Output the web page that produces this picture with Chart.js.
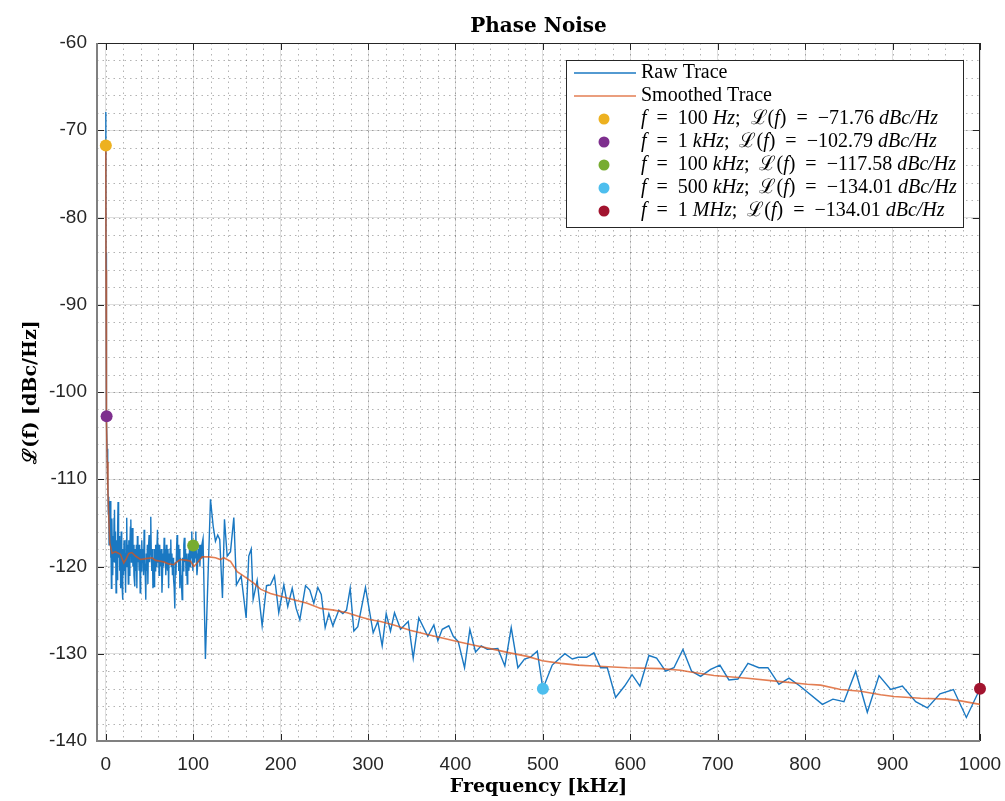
<!DOCTYPE html>
<html lang="en">
<head>
<meta charset="utf-8">
<title>Phase Noise</title>
<script src="https://cdn.jsdelivr.net/npm/chart.js@4.4.0/dist/chart.umd.min.js"></script>
<style>
  body { margin: 0; background: #fff; }
  .chart-container { width: 1005px; height: 801px; }
</style>
</head>
<body>
<div class="chart-container"><canvas id="phase"></canvas></div>
<script>
// raw trace (kHz / dBc/Hz)
const rawFreq = [0.1, 0.3, 0.6, 1, 1.5,
  2, 2.5, 3, 3.4, 3.8, 4.2, 4.7, 5.1, 5.6, 6,
  6.5, 7, 7.5, 8, 8.5, 9, 9.5, 10, 10.6, 11.2,
  11.8, 12.4, 13, 13.6, 14.1, 14.7, 15.3, 15.9, 16.5, 17.1,
  17.7, 18.3, 18.8, 19.2, 19.7, 20.3, 20.9, 21.5, 22.1, 22.7,
  23.3, 24, 24.6, 25.2, 25.8, 26.4, 27, 27.6, 28.2, 28.7,
  29.3, 29.9, 30.5, 31.1, 31.7, 32.3, 33.2, 33.8, 34.4, 35,
  35.6, 36.2, 36.8, 37.5, 38.2, 38.8, 39.4, 40, 40.6, 41.2,
  41.8, 42.5, 43.2, 43.9, 44.5, 45.2, 45.8, 46.4, 47, 47.6,
  48.2, 48.8, 49.6, 50.2, 50.9, 51.5, 52.1, 52.7, 53.3, 54,
  54.6, 55.3, 55.9, 56.5, 57.1, 57.8, 58.5, 59.2, 59.8, 60.4,
  61, 61.7, 62.3, 63, 63.6, 64.3, 64.9, 65.5, 66.1, 66.8,
  67.4, 68, 68.7, 69.3, 70, 70.6, 71.2, 71.9, 72.5, 73.1,
  73.8, 74.4, 75, 75.7, 76.3, 77, 77.6, 78.3, 79, 79.6,
  80.3, 81, 81.6, 82.2, 82.9, 83.5, 84.2, 84.8, 85.5, 86.1,
  86.8, 87.4, 88, 88.7, 89.3, 89.9, 90.6, 91.2, 91.9, 92.5,
  93.2, 93.8, 94.5, 95.1, 95.8, 96.4, 97.1, 97.7, 98.4, 99,
  99.7, 100.3, 101, 101.6, 102.3, 103, 103.6, 104.3, 104.9, 105.6,
  106.3, 107, 107.7, 108.5, 109.2, 110, 111.3, 114,
  119.8, 122.9, 125.5, 128.1, 130.4, 133.5, 135.8, 138.9, 142.7, 146.5,
  149.5, 154.9, 160.6, 163.6, 166.4, 168.6, 173.2, 178.9, 183.9, 188.4, 193, 197.9, 203.7, 208.2, 213.3, 217.8, 222,
  228.5, 233.4, 238, 242.6, 246.5, 251, 255.2, 259.8, 266.6, 271.2, 275.4, 279.6, 283.8, 288.3, 297.1, 305.9, 311.2,
  316.2, 320.8, 325.7, 330.3, 337.2, 346, 351.7, 358.1, 368.4, 375.3, 379.9, 384.9, 392.4, 397.5, 403.2, 410.4, 416.5,
  423, 429.5, 436.4, 448.5, 456.5, 463.8, 471.4, 479, 485.9, 493.6, 500, 510.7, 525.2, 533.6, 540.5, 550, 558.4, 566,
  573.7, 583.2, 593.5, 602, 611, 621.3, 630.1, 640.4, 649.9, 660.2, 670.1, 680.4, 691.9, 702.5, 712.8, 723.1, 734.6,
  747.1, 757.4, 770, 781.5, 794, 819.7, 831.8, 844.4, 857.8, 871.1, 884.5, 897.8, 911.2, 926.4, 939.8, 954.2, 969.6,
  984.4, 1000];
const rawLevel = [-67.9, -84, -96, -103, -106.5,
  -110.5, -109.3, -114, -112, -117.5, -113.5, -116, -112.5, -119, -115,
  -122.5, -114.5, -118, -121, -116.5, -119.5, -114.5, -113.5, -119.5, -116,
  -123, -117, -121.5, -115.5, -112.6, -119, -116.5, -120.5, -117, -122.5,
  -116, -119.5, -122.5, -123.8, -118, -121, -117, -120.5, -118.5, -123,
  -117, -114.4, -120, -117.5, -122, -117, -121, -118, -115.5, -114.6,
  -119.5, -117, -115.6, -120, -117.5, -121, -122.3, -118, -120.5, -117.5,
  -122.5, -116.5, -119.5, -117.5, -120.4, -117.5, -123, -118, -120.5, -117,
  -119.5, -118, -121, -115.8, -119.5, -121, -123.8, -118.5, -120.5, -117.5,
  -122, -118, -116.4, -119.5, -117.5, -114.3, -118.5, -120.5, -118, -122.5,
  -119, -122.3, -118, -120.5, -117.5, -120, -118, -115.8, -119.5, -117.5,
  -121, -117.5, -119.5, -120, -118, -123, -121.1, -118.5, -120, -116.7,
  -119.5, -118, -121, -117.5, -119.5, -120.4, -118, -122.5, -118.5, -119.8,
  -118, -116.9, -120, -118.5, -121, -119, -121.5, -122.5, -124.8, -119.5,
  -121, -118, -116.4, -119.5, -117.5, -120.5, -118, -122.5, -119, -121,
  -122.5, -123.8, -119, -120.5, -117.5, -116.7, -119.5, -118, -121, -118.5,
  -122, -120.5, -118.5, -120.5, -118, -120, -117.5, -119, -116, -118.5,
  -120.5, -117, -119.5, -117.5, -119, -116, -118.5, -121, -120.2, -118,
  -119.5, -117.5, -120, -117.5, -119, -117.5, -116.8, -130.6,
  -112.3, -115.4, -117.1, -116.4, -116.9, -123.6, -114.6, -118.8, -118.3, -114.4,
  -122.1, -121.1, -125.9, -118.8, -118, -123.8, -121.6, -126.8, -122.2, -122.1, -121.1, -125.3, -122.1, -124.6, -122.5,
  -124.8, -126.1, -122.2, -122.7, -124.2, -122.4, -123.2, -127, -125.4, -126.8, -125, -125.4, -125, -122.5, -127.4,
  -126.9, -122.4, -127.6, -126.3, -129.1, -125.4, -127.4, -125.3, -127.2, -126.3, -130.5, -125.9, -128, -126.7, -128.5,
  -127.2, -126.8, -128, -128.6, -131.6, -127.2, -129.8, -129.1, -129.5, -129.4, -131.4, -127, -131.6, -130.6, -130.4,
  -129.7, -134.01, -131.3, -130, -130.6, -130.4, -130.4, -129.9, -131.6, -131.6, -135, -133.7, -132.4, -133.7, -130.2,
  -130.5, -132, -131.6, -129.5, -132, -132.6, -131.8, -131.3, -133, -132.9, -131.1, -131.6, -131.6, -133.5, -132.8,
  -133.7, -135.8, -135.2, -135.5, -132, -136.7, -132.5, -134.1, -133.7, -135.5, -136.2, -134.6, -134.1, -137.3, -134.01];

// smoothed trace
const smoothFreq = [0.1, 0.3, 0.6, 1, 1.6, 2.5, 3.5, 4.6, 7.3, 11, 16.8, 20.6, 23, 26.3, 30, 34, 39.7, 46, 53, 57, 62.6,
  67, 72, 77.8, 81, 85.5, 93.1, 97, 100.7, 104.5, 110.3, 118, 125.5, 131.2, 135, 142.7, 150.3, 157.9, 169.3, 177, 188.4,
  199.9, 215.1, 230.4, 245.7, 260.9, 276.2, 291.4, 302.9, 314.3, 329.5, 348, 367.7, 385, 402, 420, 443.9, 462, 482.2,
  499.3, 520.3, 540, 558.4, 596.6, 634.7, 657.6, 669, 695.7, 733.9, 772, 802.5, 817.7, 840.6, 863.5, 886.4, 901.6, 932.1,
  962.6, 977.9, 1000];
const smoothLevel = [-71.76, -86, -97, -102.79, -108, -111.5, -114.5, -117.3, -118.5, -118.3, -118.6, -119.6, -119.2,
  -118.5, -118.4, -118.8, -119.2, -119.1, -119, -119.3, -119.4, -119.5, -119.7, -119.8, -119.5, -119.2, -119.3, -119.4,
  -120, -119.6, -118.9, -118.9, -119, -119.2, -119, -119.4, -120.6, -121.1, -121.9, -122.6, -123.1, -123.4, -123.8,
  -124.2, -124.8, -125, -125.3, -125.8, -126.1, -126.3, -126.7, -127.3, -127.8, -128.2, -128.6, -129, -129.5, -129.9,
  -130.3, -130.8, -131.1, -131.3, -131.4, -131.6, -131.7, -131.9, -132.1, -132.5, -132.8, -133.2, -133.5, -133.6,
  -134.1, -134.3, -134.7, -134.9, -135.1, -135.2, -135.4, -135.8];

// spot markers
const markerFreq = [0.1, 1, 100, 500, 1000];
const markerLevel = [-71.76, -102.79, -117.58, -134.01, -134.01];
const markerFreqText = ['100', '1', '100', '500', '1'];
const markerUnit = ['Hz', 'kHz', 'kHz', 'kHz', 'MHz'];

const xTicks = [0, 100, 200, 300, 400, 500, 600, 700, 800, 900, 1000];
const yTicks = [-60, -70, -80, -90, -100, -110, -120, -130, -140];

const markerColors = ['#EDB120', '#7E2F8E', '#77AC30', '#4DBEEE', '#A2142F'];
const serif = '"Liberation Serif", "DejaVu Serif", serif';
const sp = '\u2002';

function toPoints(xs, ys) {
    return xs.map((x, i) => ({x: x, y: ys[i]}));
}

function markerParts(i) {
    return [
        {t: 'f', it: true},
        {t: sp + '=' + sp + markerFreqText[i] + ' '},
        {t: markerUnit[i], it: true},
        {t: ';' + sp + '\u2112('},
        {t: 'f', it: true},
        {t: ')' + sp + '=' + sp + '\u2212' + Math.abs(markerLevel[i]).toFixed(2) + ' '},
        {t: 'dBc/Hz', it: true}
    ];
}

const datasets = [
    {
        label: 'Raw Trace',
        parts: [{t: 'Raw Trace'}],
        data: toPoints(rawFreq, rawLevel),
        borderColor: '#1a78c2',
        borderWidth: 1.4,
        pointRadius: 0,
        order: 3
    },
    {
        label: 'Smoothed Trace',
        parts: [{t: 'Smoothed Trace'}],
        data: toPoints(smoothFreq, smoothLevel),
        borderColor: 'rgba(217, 83, 25, 0.75)',
        borderWidth: 1.6,
        pointRadius: 0,
        order: 2
    }
];
markerFreq.forEach((f, i) => {
    datasets.push({
        label: 'marker ' + i,
        parts: markerParts(i),
        data: [{x: f, y: markerLevel[i]}],
        showLine: false,
        pointRadius: 6,
        pointBackgroundColor: markerColors[i],
        pointBorderWidth: 0,
        clip: false,
        order: 1
    });
});

// minor dotted grid, box and inward ticks (MATLAB look), plus the legend
const matlabAxes = {
    id: 'matlabAxes',
    beforeDatasetsDraw(chart) {
        const {ctx, chartArea: a, scales: {x, y}} = chart;
        ctx.save();
        ctx.beginPath();
        ctx.rect(a.left, a.top, a.width, a.height);
        ctx.clip();
        ctx.strokeStyle = 'rgba(38, 38, 38, 0.35)';
        ctx.lineWidth = 1;
        ctx.setLineDash([1.5, 4]);
        ctx.beginPath();
        for (let v = 0; v <= 1000; v += 20) {
            const px = Math.round(x.getPixelForValue(v)) + 0.5;
            ctx.moveTo(px, a.top);
            ctx.lineTo(px, a.bottom);
        }
        for (let v = -140; v <= -60; v += 2) {
            const py = Math.round(y.getPixelForValue(v)) + 0.5;
            ctx.moveTo(a.left, py);
            ctx.lineTo(a.right, py);
        }
        ctx.stroke();
        ctx.restore();

        ctx.save();
        ctx.setLineDash([]);
        ctx.strokeStyle = '#262626';
        ctx.lineWidth = 1;
        ctx.beginPath();
        xTicks.forEach(v => {
            const px = Math.round(x.getPixelForValue(v)) + 0.5;
            ctx.moveTo(px, a.bottom); ctx.lineTo(px, a.bottom - 7);
            ctx.moveTo(px, a.top); ctx.lineTo(px, a.top + 7);
        });
        yTicks.forEach(v => {
            const py = Math.round(y.getPixelForValue(v)) + 0.5;
            ctx.moveTo(a.left, py); ctx.lineTo(a.left + 7, py);
            ctx.moveTo(a.right, py); ctx.lineTo(a.right - 7, py);
        });
        ctx.moveTo(a.left, a.top + 0.5); ctx.lineTo(a.right, a.top + 0.5);
        ctx.moveTo(a.right - 0.5, a.top); ctx.lineTo(a.right - 0.5, a.bottom);
        ctx.stroke();
        ctx.strokeStyle = '#808080';
        ctx.lineWidth = 2;
        ctx.beginPath();
        ctx.moveTo(a.left, a.top); ctx.lineTo(a.left, a.bottom);
        ctx.lineTo(a.right, a.bottom);
        ctx.stroke();
        ctx.restore();
    },
    afterDatasetsDraw(chart) {
        const {ctx, chartArea: a} = chart;
        const w = 397, h = 167;
        const left = a.right - 17 - w, top = a.top + 17;
        ctx.save();
        ctx.fillStyle = '#fff';
        ctx.fillRect(left, top, w, h);
        ctx.strokeStyle = '#262626';
        ctx.lineWidth = 1;
        ctx.strokeRect(left + 0.5, top + 0.5, w, h);
        ctx.textBaseline = 'middle';
        chart.data.datasets.forEach((ds, i) => {
            const cy = top + 13 + i * 23;
            if (ds.showLine === false) {
                ctx.fillStyle = ds.pointBackgroundColor;
                ctx.beginPath();
                ctx.arc(left + 38, cy, 5.5, 0, Math.PI * 2);
                ctx.fill();
            } else {
                ctx.strokeStyle = ds.borderColor;
                ctx.lineWidth = 1.4;
                ctx.beginPath();
                ctx.moveTo(left + 8, cy);
                ctx.lineTo(left + 70, cy);
                ctx.stroke();
            }
            let tx = left + 75;
            ctx.fillStyle = '#000';
            ds.parts.forEach(p => {
                ctx.font = (p.it ? 'italic ' : '') + '20px ' + serif;
                ctx.fillText(p.t, tx, cy);
                tx += ctx.measureText(p.t).width;
            });
        });
        ctx.restore();
    }
};

const ctx = document.getElementById('phase').getContext('2d');
const phase = new Chart(ctx, {
    type: 'line',
    data: {datasets: datasets},
    plugins: [matlabAxes],
    options: {
        responsive: true,
        maintainAspectRatio: false,
        animation: false,
        layout: {padding: {left: 0, right: 25, top: 0, bottom: 0}},
        plugins: {
            legend: {display: false},
            tooltip: {enabled: false},
            title: {
                display: true,
                text: 'Phase Noise',
                fullSize: false,
                color: '#000',
                font: {family: '"DejaVu Serif", serif', size: 20, weight: 'bold'},
                padding: {top: 15, bottom: 4}
            }
        },
        scales: {
            x: {
                type: 'linear',
                min: -10,
                max: 1000,
                afterBuildTicks: s => { s.ticks = xTicks.map(v => ({value: v})); },
                afterFit: s => { s.height = 60; s.paddingLeft = 0; s.paddingRight = 0; },
                grid: {color: 'rgba(38, 38, 38, 0.15)', drawTicks: false},
                border: {display: false},
                ticks: {
                    color: '#262626',
                    padding: 12,
                    font: {family: '"Liberation Sans", Arial, sans-serif', size: 19},
                    callback: v => String(v)
                },
                title: {
                    display: true,
                    text: 'Frequency [kHz]',
                    color: '#000',
                    font: {family: '"DejaVu Serif", serif', size: 19, weight: 'bold'},
                    padding: {top: 0, bottom: 3}
                }
            },
            y: {
                type: 'linear',
                min: -140,
                max: -60,
                afterBuildTicks: s => { s.ticks = yTicks.map(v => ({value: v})); },
                afterFit: s => { s.width = 97; },
                grid: {color: 'rgba(38, 38, 38, 0.15)', drawTicks: false},
                border: {display: false},
                ticks: {color: '#262626', padding: 10, font: {family: '"Liberation Sans", Arial, sans-serif', size: 19}},
                title: {
                    display: true,
                    text: '\u2112(f) [dBc/Hz]',
                    color: '#000',
                    font: {family: '"DejaVu Serif", serif', size: 19, weight: 'bold'},
                    padding: {top: 20, bottom: 0}
                }
            }
        }
    }
});
</script>
</body>
</html>
